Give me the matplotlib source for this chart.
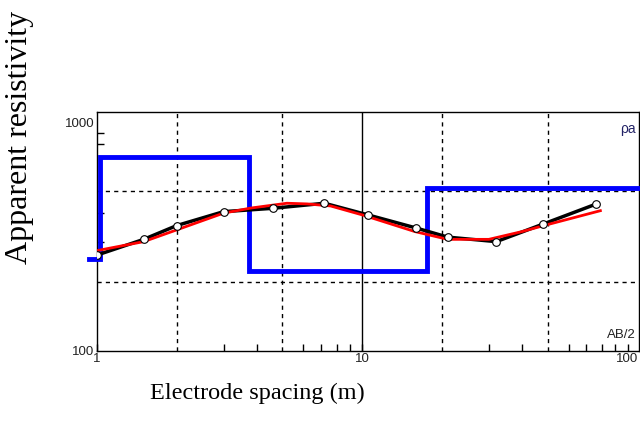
import matplotlib.pyplot as plt
from matplotlib.ticker import FixedLocator, NullFormatter

# Field sounding: AB/2 (m) and apparent resistivity (ohm.m)
ab2 = [1.0, 1.5, 2.0, 3.0, 4.6, 7.2, 10.5, 16, 21, 32, 48, 76]
rho_obs = [262, 307, 353, 406, 420, 442, 393, 344, 314, 300, 358, 438]

# Calculated curve from the layered model
ab2_calc = [1.0, 1.5, 2.0, 3.0, 3.8, 5.2, 6.2, 7.6, 10, 15.8, 21, 30, 40, 48, 79]
rho_calc = [274, 300, 338, 400, 421, 442, 439, 430, 393, 332, 307, 307, 332, 352, 410]

# Layer model: resistivity and depth to bottom of each layer
layer_rho = [251, 703, 222, 518]
layer_depth = [0.93, 1.03, 3.75, 17.6, 115]

fig = plt.figure(figsize=(6.4, 4.24), dpi=100)
ax = fig.add_axes([97 / 640, 1 - 350.5 / 424, 541.5 / 640, 238.5 / 424])
ax.set_xscale('log')
ax.set_yscale('log')
ax.set_xlim(1, 110)
ax.set_ylim(100, 1110)

# grid lines
for gx in [2, 5, 20, 50]:
    ax.axvline(gx, color='black', lw=1, ls=(0, (3, 3)), zorder=1)
ax.axvline(10, color='black', lw=1, zorder=1)
for gy in [200, 500]:
    ax.axhline(gy, color='black', lw=1, ls=(0, (3, 3)), zorder=1)

# step model
xs, ys = [], []
for i, r in enumerate(layer_rho):
    xs += [layer_depth[i], layer_depth[i + 1]]
    ys += [r, r]
ax.plot(xs, ys, color='#0000ff', lw=3.5, solid_joinstyle='miter', clip_on=False, zorder=3)
ax.set_xlim(1, 110)

ax.plot(ab2, rho_obs, color='black', lw=2.5, zorder=4)
ax.plot(ab2, rho_obs, 'o', ms=5.5, mfc='white', mec='black', mew=0.8, zorder=6)
ax.plot(ab2_calc, rho_calc, color='#ff0000', lw=2, zorder=5)

ax.xaxis.set_major_locator(FixedLocator([1, 10, 100]))
ax.xaxis.set_minor_locator(FixedLocator([3, 4, 6, 7, 8, 9, 30, 40, 60, 70, 80, 90]))
ax.yaxis.set_major_locator(FixedLocator([100, 1000]))
ax.yaxis.set_minor_locator(FixedLocator([300, 400, 800, 900]))
ax.xaxis.set_minor_formatter(NullFormatter())
ax.yaxis.set_minor_formatter(NullFormatter())
ax.set_xticklabels(['1', '10', '100'])
ax.set_yticklabels(['100', '1000'])
ax.tick_params(which='both', direction='in', length=5, width=1, labelsize=9.5, pad=2)
ax.tick_params(axis='y', which='major', length=0)
for lab in ax.get_xticklabels() + ax.get_yticklabels():
    lab.set_family('Liberation Sans')
    lab.set_color('#222222')
for s in ax.spines.values():
    s.set_linewidth(1)

ax.text(0.995, 0.96, 'ρa', transform=ax.transAxes, ha='right', va='top',
        fontsize=10, family='Liberation Sans', color='#222266')
ax.text(0.995, 0.04, 'AB/2', transform=ax.transAxes, ha='right', va='bottom',
        fontsize=9.5, family='Liberation Sans', color='#222222')

fig.text(150 / 640, 1 - 393 / 424, 'Electrode spacing (m)', ha='left', va='center',
         fontsize=17.5, family='Liberation Serif')
fig.text(20 / 640, 1 - 264 / 424, 'Apparent resistivity', rotation=90, ha='center',
         va='bottom', fontsize=23, family='Liberation Serif')

fig.savefig('out.png', dpi=100)
